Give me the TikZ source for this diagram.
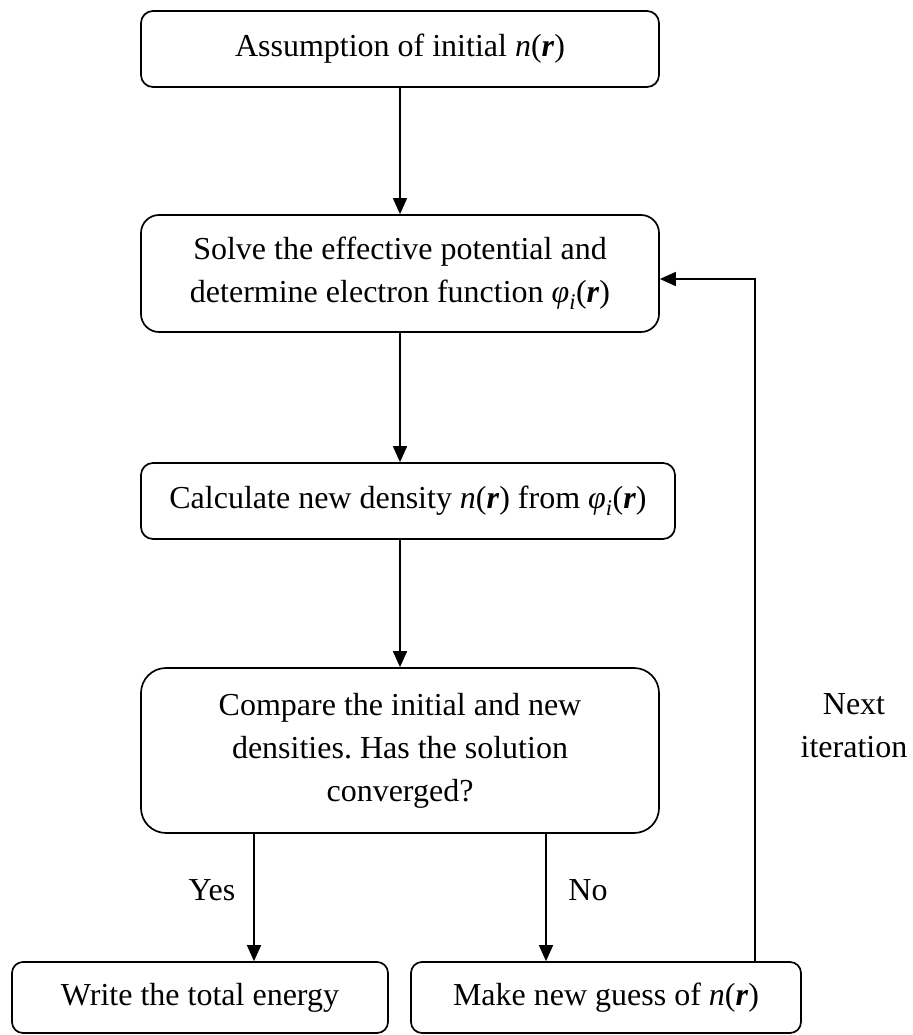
\documentclass[tikz,border=0pt]{standalone}
\usepackage{fontspec}
\setmainfont{Liberation Serif}
\usetikzlibrary{arrows.meta}
\frenchspacing
\newcommand{\nr}{\textit{n}(\textbf{\textit{r}})}
\newcommand{\phir}{\textit{φ}\textsubscript{\textit{i}}(\textbf{\textit{r}})}
\begin{document}
\begin{tikzpicture}[x=1pt,y=-1pt,
  every node/.style={font=\fontsize{32}{43}\selectfont},
  box/.style={draw, line width=1.7pt, align=center, inner sep=0pt},
  arr/.style={line width=1.6pt, -{Triangle[length=16pt,width=14pt]}},
  lbl/.style={inner sep=0pt}]
\useasboundingbox (0,0) rectangle (912,1035);
\node[box, rounded corners=12pt, minimum width=518pt, minimum height=76pt] (b1) at (400,49) {Assumption of initial \nr};
\node[box, rounded corners=18pt, minimum width=518pt, minimum height=117pt] (b2) at (400,273.5) {Solve the effective potential and\\determine electron function \phir};
\node[box, rounded corners=12pt, minimum width=534pt, minimum height=76pt] (b3) at (408,501) {Calculate new density \nr{} from \phir};
\node[box, rounded corners=25pt, minimum width=518pt, minimum height=165pt] (b4) at (400,750.5) {Compare the initial and new\\densities. Has the solution\\converged?};
\node[box, rounded corners=11pt, minimum width=376pt, minimum height=71pt] (b5) at (200,997.5) {Write the total energy};
\node[box, rounded corners=11pt, minimum width=390pt, minimum height=71pt] (b6) at (606,997.5) {Make new guess of \nr};
\coordinate (yx) at (254,0);
\coordinate (nx) at (546,0);
\coordinate (fb) at (755,279);
\draw[arr] (b1.south) -- (b2.north);
\draw[arr] (b2.south) -- (b2.south |- b3.north);
\draw[arr] (b2.south |- b3.south) -- (b4.north);
\draw[arr] (b4.south -| yx) -- (b5.north -| yx);
\draw[arr] (b4.south -| nx) -- (b6.north -| nx);
\draw[arr] (b6.north -| fb) |- (fb -| b2.east);
\node[lbl] (yes) at (212,890) {Yes};
\node[lbl] (no) at (588,890) {No};
\node[lbl, align=center] (next) at (854,726) {Next\\iteration};
\end{tikzpicture}
\end{document}
